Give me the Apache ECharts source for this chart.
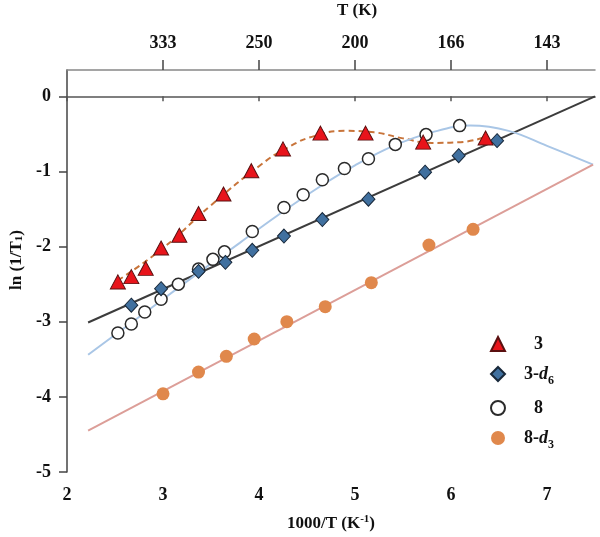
<!DOCTYPE html>
<html>
<head>
<meta charset="utf-8">
<script src="https://cdn.jsdelivr.net/npm/echarts@6/dist/echarts.min.js"></script>
<style>html,body{margin:0;padding:0;background:#fff}#c{width:600px;height:537px}</style>
</head>
<body>
<div id="c"></div>
<script>
// ---- data ----
var s3 = [[2.53,-2.47],[2.67,-2.40],[2.82,-2.29],[2.98,-2.02],[3.17,-1.85],[3.37,-1.56],[3.63,-1.30],[3.92,-0.99],[4.25,-0.70],[4.64,-0.49],[5.11,-0.49],[5.71,-0.61],[6.36,-0.555]];
var s3d6 = [[2.67,-2.78],[2.98,-2.56],[3.37,-2.33],[3.65,-2.21],[3.93,-2.05],[4.26,-1.86],[4.66,-1.64],[5.14,-1.37],[5.73,-1.01],[6.08,-0.79],[6.48,-0.59]];
var s8 = [[2.53,-3.15],[2.67,-3.03],[2.81,-2.87],[2.98,-2.70],[3.16,-2.50],[3.37,-2.30],[3.52,-2.17],[3.64,-2.07],[3.93,-1.80],[4.26,-1.48],[4.46,-1.31],[4.66,-1.11],[4.89,-0.96],[5.14,-0.83],[5.42,-0.64],[5.74,-0.51],[6.09,-0.39]];
var s8d3 = [[3.00,-3.96],[3.37,-3.67],[3.66,-3.46],[3.95,-3.23],[4.29,-3.00],[4.69,-2.80],[5.17,-2.48],[5.77,-1.98],[6.23,-1.77]];
var fit3 = [[2.53,-2.45],[3.0,-2.02],[3.5,-1.45],[4.0,-0.93],[4.3,-0.68],[4.6,-0.52],[4.9,-0.46],[5.2,-0.48],[5.5,-0.56],[5.8,-0.62],[6.1,-0.61],[6.36,-0.54]];
var fit3d6 = [[2.22,-3.01],[7.5,0.0]];
var fit8 = [[2.22,-3.44],[2.6,-3.08],[3.0,-2.70],[3.4,-2.32],[3.8,-1.95],[4.2,-1.58],[4.6,-1.23],[5.0,-0.92],[5.4,-0.66],[5.8,-0.48],[6.2,-0.39],[6.6,-0.46],[7.0,-0.66],[7.48,-0.91]];
var fit8d3 = [[2.22,-4.45],[7.48,-0.91]];
var xTicks = [2,3,4,5,6,7];
var yTicks = [-5,-4,-3,-2,-1,0];
var topTickValues = [3,4,5,6,7];
var topTickLabels = ['333','250','200','166','143'];
var seriesNames = ['3','3-d6','8','8-d3'];

var FONT = 'Liberation Serif';
var lab = {fontFamily: FONT, fontWeight: 'bold', fontSize: 18, color: '#111'};

var chart = echarts.init(document.getElementById('c'), null, {renderer: 'canvas'});
var legendRich = {
  n: {fontFamily: FONT, fontWeight: 'bold', fontSize: 18, color: '#111', lineHeight: 20},
  c: {fontFamily: FONT, fontWeight: 'bold', fontSize: 18, color: '#111', lineHeight: 20, padding: [0,0,0,10]},
  i: {fontFamily: FONT, fontWeight: 'bold', fontStyle: 'italic', fontSize: 18, color: '#111', lineHeight: 20},
  s: {fontFamily: FONT, fontWeight: 'bold', fontSize: 12, color: '#111', lineHeight: 12, verticalAlign: 'bottom', padding: [0,0,-3,0]}
};
function legendFmt(name) {
  if (name === '3') return '{c|3}';
  if (name === '8') return '{c|8}';
  if (name === '3-d6') return '{n|3-}{i|d}{s|6}';
  if (name === '8-d3') return '{n|8-}{i|d}{s|3}';
  return name;
}
chart.setOption({
  animation: false,
  backgroundColor: '#fff',
  grid: {left: 67, right: 5, top: 70, bottom: 65, containLabel: false, outerBoundsMode: 'none'},
  legend: {
    data: seriesNames,
    orient: 'vertical',
    left: 485, top: 330,
    itemGap: 12, itemWidth: 14, itemHeight: 14,
    formatter: legendFmt,
    textStyle: {rich: legendRich, padding: [0,0,0,14]}
  },
  xAxis: [{
    type: 'value', position: 'bottom', min: 2, max: 7.5, interval: 1,
    axisLine: {show: true, lineStyle: {color: '#555', width: 1.5}},
    axisTick: {show: true, length: 5, lineStyle: {color: '#555', width: 1.5}},
    axisLabel: Object.assign({margin: 14, showMaxLabel: false, formatter: function(v){ return xTicks.indexOf(v) >= 0 ? String(v) : ''; }}, lab),
    splitLine: {show: false},
    name: '1000/T (K{sup|-1})', nameLocation: 'middle', nameGap: 42,
    nameTextStyle: Object.assign({rich: {sup: {fontFamily: FONT, fontWeight: 'bold', fontSize: 11, verticalAlign: 'top', color: '#111', padding: [0,0,8,0]}}}, lab, {fontSize: 17})
  }, {
    type: 'value', position: 'top', min: 2, max: 7.5, interval: 1,
    axisLine: {show: true, lineStyle: {color: '#888', width: 1.5}},
    axisTick: {show: true, length: 10, lineStyle: {color: '#444', width: 1.5}},
    axisLabel: Object.assign({margin: 18, showMinLabel: false, showMaxLabel: false, formatter: function(v){ var k = topTickValues.indexOf(v); return k >= 0 ? topTickLabels[k] : ''; }}, lab),
    splitLine: {show: false},
    name: 'T (K)', nameLocation: 'middle', nameGap: 51,
    nameTextStyle: Object.assign({padding: [0,0,0,52]}, lab, {fontSize: 17})
  }],
  yAxis: {
    type: 'value', min: -5, max: 0.35, interval: 1,
    axisLine: {show: true, lineStyle: {color: '#444', width: 1.5}},
    axisTick: {show: true, length: 8, lineStyle: {color: '#444', width: 1.5}},
    axisLabel: Object.assign({margin: 16, showMaxLabel: false, formatter: function(v){ return yTicks.indexOf(v) >= 0 ? String(v) : ''; }}, lab),
    splitLine: {show: false},
    name: 'ln (1/T{sub|1})', nameLocation: 'middle', nameGap: 42, nameRotate: 90,
    nameTextStyle: Object.assign({padding: [0,0,0,22], rich: {sub: {fontFamily: FONT, fontWeight: 'bold', fontSize: 11, verticalAlign: 'bottom', color: '#111'}}}, lab, {fontSize: 17})
  },
  series: [
    {name: 'fit3', type: 'line', data: fit3, smooth: 0.5, showSymbol: false, silent: true, z: 1,
     lineStyle: {color: '#c8743a', width: 2, type: [6,4]}},
    {name: 'fit3d6', type: 'line', data: fit3d6, showSymbol: false, silent: true, z: 1,
     lineStyle: {color: '#3c3c3c', width: 2}},
    {name: 'fit8', type: 'line', data: fit8, smooth: 0.4, showSymbol: false, silent: true, z: 1,
     lineStyle: {color: '#a9c6e6', width: 2}},
    {name: 'fit8d3', type: 'line', data: fit8d3, showSymbol: false, silent: true, z: 1,
     lineStyle: {color: '#dc9e98', width: 2}},
    {name: '8-d3', type: 'scatter', data: s8d3, symbol: 'circle', symbolSize: 13, z: 3,
     itemStyle: {color: '#e0884c', borderWidth: 0, opacity: 1}},
    {name: '8', type: 'scatter', data: s8, symbol: 'circle', symbolSize: 12, z: 4,
     itemStyle: {color: '#fff', borderColor: '#2a2a2a', borderWidth: 1.5, opacity: 1}},
    {name: '3-d6', type: 'scatter', data: s3d6, symbol: 'diamond', symbolSize: [13,14], z: 5,
     itemStyle: {color: '#40709f', borderColor: '#18283a', borderWidth: 1, opacity: 1}},
    {name: '3', type: 'scatter', data: s3, symbol: 'triangle', symbolSize: [15,14], z: 6,
     itemStyle: {color: '#e8141b', borderColor: '#5a1010', borderWidth: 1, opacity: 1}}
  ]
});
</script>
</body>
</html>
